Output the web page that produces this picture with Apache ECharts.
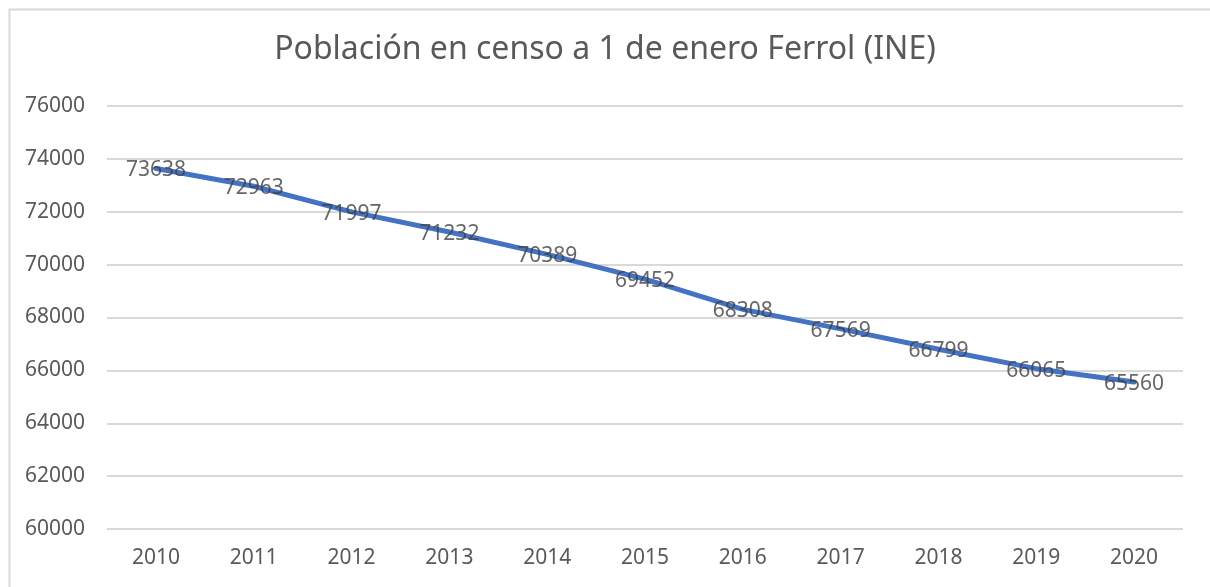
<!DOCTYPE html>
<html>
<head>
<meta charset="utf-8">
<script src="https://cdn.jsdelivr.net/npm/echarts@6/dist/echarts.min.js"></script>
<style>
html,body{margin:0;padding:0;background:#fff;}
#c{width:1210px;height:587px;}
</style>
</head>
<body>
<div id="c"></div>
<script>
const titleText = 'Población en censo a 1 de enero Ferrol (INE)';
const years = ['2010','2011','2012','2013','2014','2015','2016','2017','2018','2019','2020'];
const population = [73638, 72963, 71997, 71232, 70389, 69452, 68308, 67569, 66799, 66065, 65560];
const yMin = 60000, yMax = 76000, yStep = 2000;

const chart = echarts.init(document.getElementById('c'), null, {renderer: 'canvas'});
chart.setOption({
  animation: false,
  backgroundColor: '#ffffff',
  graphic: [{
    type: 'rect',
    left: 7, top: 7,
    shape: {width: 1240, height: 620},
    style: {fill: 'none', stroke: '#d9d9d9', lineWidth: 2},
    silent: true
  }],
  title: {
    text: titleText,
    left: 'center',
    top: 29,
    textStyle: {fontFamily: 'Noto Sans', fontSize: 32, fontWeight: 'normal', color: '#595959'}
  },
  grid: {left: 107, right: 27, top: 106, bottom: 58, containLabel: false},
  xAxis: {
    type: 'category',
    data: years,
    boundaryGap: true,
    axisLine: {show: false},
    axisTick: {show: false},
    axisLabel: {fontFamily: 'Noto Sans', fontSize: 21, color: '#595959', margin: 19}
  },
  yAxis: {
    type: 'value',
    min: yMin, max: yMax, interval: yStep,
    axisLine: {show: false},
    axisTick: {show: false},
    splitLine: {lineStyle: {color: '#d9d9d9', width: 2}},
    axisLabel: {fontFamily: 'Noto Sans', fontSize: 21, color: '#595959', margin: 22,
      formatter: v => String(v)}
  },
  series: [{
    type: 'line',
    data: population,
    symbol: 'none',
    lineStyle: {color: '#4472C4', width: 5, cap: 'round', join: 'round'},
    itemStyle: {color: '#4472C4'},
    z: 2
  }, {
    type: 'scatter',
    data: population,
    symbolSize: 0,
    itemStyle: {color: 'rgba(0,0,0,0)'},
    z: 3,
    label: {
      show: true,
      position: 'inside',
      offset: [0, 2],
      fontFamily: 'Noto Sans',
      fontSize: 21,
      color: '#404040',
      formatter: p => String(p.value)
    }
  }]
});
</script>
</body>
</html>
